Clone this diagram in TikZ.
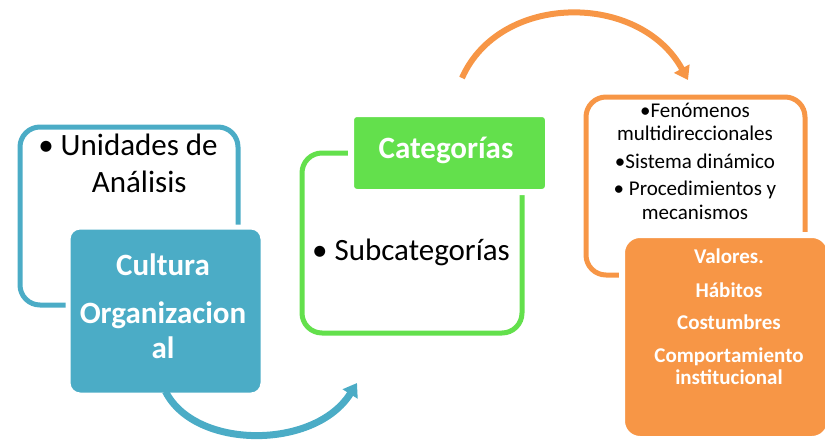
\documentclass[tikz,border=0pt]{standalone}
\usepackage{fontspec}
\setmainfont{Carlito}
\usetikzlibrary{arrows.meta}
\definecolor{cblue}{HTML}{4BACC6}
\definecolor{cgreen}{HTML}{63E04C}
\definecolor{corange}{HTML}{F79646}
\begin{document}
\begin{tikzpicture}[x=1pt,y=-1pt,
  outl/.style={draw=#1, line width=5pt, rounded corners=20pt, anchor=north west, inner sep=0pt},
  filbox/.style={fill=#1, draw=white, line width=5pt, rounded corners=12pt, anchor=north west, inner sep=0pt},
  bigtxt/.style={inner sep=0pt, anchor=base, align=center, font=\fontsize{31}{37}\selectfont},
  bigbold/.style={inner sep=0pt, anchor=base, align=center, text=white, font=\fontsize{31}{35}\selectfont\bfseries},
  smalltxt/.style={inner sep=0pt, anchor=base, align=center, font=\fontsize{21}{23.5}\selectfont},
  smallbold/.style={inner sep=0pt, anchor=base, align=center, text=white, font=\fontsize{21}{22}\selectfont\bfseries},
  flow/.style={draw=#1, line width=7pt, -{Triangle[length=13pt,width=17pt]}}
]
\useasboundingbox (0,0) rectangle (825,442);

% left group
\node[outl=cblue, minimum width=218pt, minimum height=178pt] (uout) at (17.5,124.5) {};
\node[filbox=cblue, minimum width=195pt, minimum height=168pt] (cult) at (65.5,224.5) {};
\node[bigtxt] (utxt) at (128,192) {• Unidades de\\\phantom{• }Análisis};
\node[bigbold] (ctxt) at (163,358) {Cultura\\[13pt]Organizacion\\al};

% middle group
\node[outl=cgreen, minimum width=220pt, minimum height=180pt] (gout) at (299.5,150.5) {};
\node[filbox=cgreen, line width=6pt, rounded corners=6pt, minimum width=197pt, minimum height=78pt] (cat) at (348,111) {};
\node[bigbold] (cattxt) at (446,158) {Categorías};
\node[bigtxt] (subtxt) at (411,260) {• Subcategorías};

% right group
\node[outl=corange, minimum width=219pt, minimum height=178pt] (oout) at (583.5,94.5) {};
\node[filbox=corange, line width=6pt, rounded corners=18pt, minimum width=208pt, minimum height=204pt] (vals) at (619,232) {};
\node[smalltxt] (ftxt) at (695,219) {•Fenómenos\\multidireccionales\\[4pt]•Sistema dinámico\\[4pt]• Procedimientos y\\mecanismos};
\node[smallbold] (vtxt) at (729,384) {Valores.\\[12pt]Hábitos\\[10pt]Costumbres\\[11pt]Comportamiento\\institucional};

% connectors
\coordinate (bend) at (357,383);
\coordinate (ostart) at (462,78);
\coordinate (oend) at (688,80);
\draw[flow=cblue] ([yshift=6pt]cult.south) .. controls (195,450) and (315,450) .. (bend);
\draw[flow=corange, line width=6pt] (ostart) .. controls (500,-8) and (640,-8) .. (oend);
\end{tikzpicture}
\end{document}
